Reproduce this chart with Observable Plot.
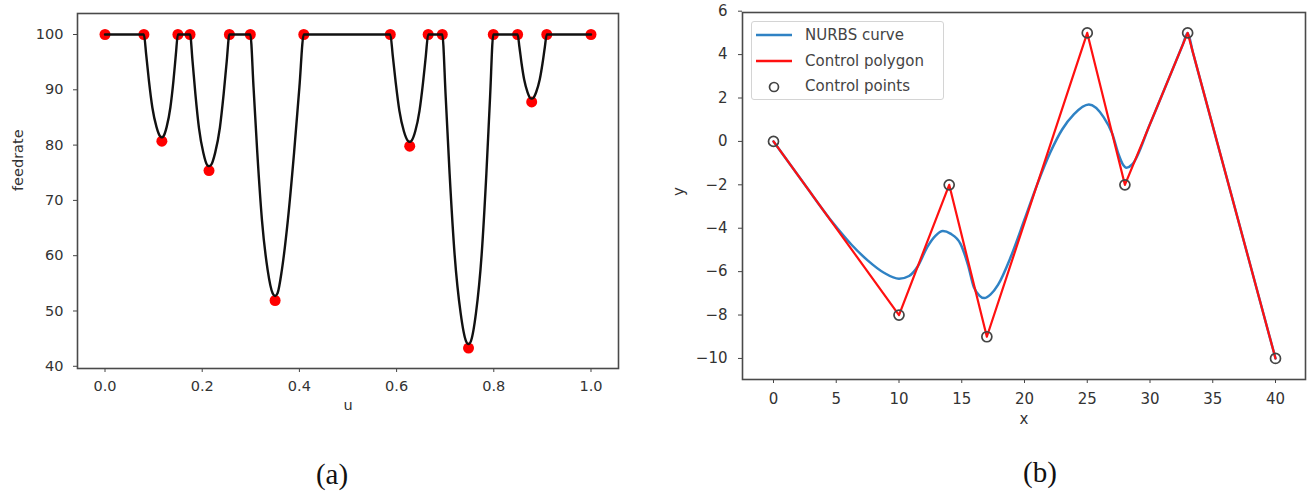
<!DOCTYPE html>
<html>
<head>
<meta charset="utf-8">
<script src="https://cdn.jsdelivr.net/npm/d3@7"></script>
<script src="https://cdn.jsdelivr.net/npm/@observablehq/plot@0.6"></script>
<style>
  html, body { margin: 0; padding: 0; background: #fff; }
  #root { position: relative; width: 1312px; height: 494px; overflow: hidden; background: #fff; }
  .panel { position: absolute; top: 0; }
  .cap { position: absolute; font-family: "Liberation Serif", "DejaVu Serif", serif; font-size: 29px; color: #111; transform: translate(-50%, -50%); white-space: nowrap; }
  #legend { position: absolute; left: 751px; top: 21px; width: 193px; height: 79px; box-sizing: border-box;
            border: 1px solid #d4d4d4; border-radius: 3px; background: rgba(255,255,255,0.85);
            font-family: "DejaVu Sans", sans-serif; font-size: 15px; color: #444; }
  .lrow { position: absolute; left: 0; height: 20px; display: flex; align-items: center; }
  .lrow svg { margin-left: 4px; }
  .lrow span { margin-left: 13px; }
</style>
</head>
<body>
<div id="root"></div>
<script>
// ---------- Panel (a): feedrate vs u ----------
const feedPointU = [0, 0.080, 0.117, 0.150, 0.175, 0.214, 0.256, 0.299, 0.350, 0.409, 0.587, 0.627, 0.665, 0.694, 0.748, 0.799, 0.849, 0.878, 0.909, 1.0];
const feedPointV = [100, 100, 80.7, 100, 100, 75.4, 100, 100, 51.9, 100, 100, 79.8, 100, 100, 43.3, 100, 100, 87.8, 100, 100];

const feedCurveU = [0, 0.080, 0.0848, 0.0904, 0.0974, 0.1059, 0.1133, 0.117, 0.1203, 0.1269, 0.1345, 0.1408, 0.1457, 0.150,
  0.175, 0.1801, 0.1859, 0.1933, 0.2023, 0.2101, 0.214, 0.2182, 0.2266, 0.2363, 0.2442, 0.2505, 0.256,
  0.299, 0.3056, 0.3133, 0.323, 0.3347, 0.3449, 0.350, 0.355, 0.3639, 0.3762, 0.3891, 0.400, 0.409,
  0.587, 0.5922, 0.5982, 0.6058, 0.615, 0.623, 0.627, 0.6308, 0.6384, 0.6471, 0.6544, 0.6601, 0.665,
  0.694, 0.701, 0.7091, 0.7194, 0.7318, 0.7426, 0.748, 0.7531, 0.7633, 0.775, 0.7847, 0.7924, 0.799,
  0.849, 0.8528, 0.8571, 0.8626, 0.8693, 0.8751, 0.878, 0.8811, 0.8873, 0.8944, 0.9003, 0.905, 0.909, 1.0];
const feedCurveV = [100, 100, 96.3, 91.6, 86.8, 83.3, 81.6, 81.4, 81.6, 83.3, 86.8, 91.6, 96.3, 100,
  100, 95.2, 89.3, 83.1, 78.6, 76.4, 76.2, 76.4, 78.6, 83.1, 89.3, 95.2, 100,
  100, 90.5, 78.7, 66.4, 57.4, 53.2, 52.7, 53.2, 57.4, 66.4, 78.7, 90.5, 100,
  100, 96.1, 91.3, 86.2, 82.5, 80.8, 80.6, 80.8, 82.5, 86.2, 91.3, 96.1, 100,
  100, 88.8, 74.8, 60.2, 49.6, 44.6, 44.0, 44.6, 49.6, 60.2, 74.8, 88.8, 100,
  100, 97.7, 94.8, 91.8, 89.6, 88.5, 88.4, 88.5, 89.6, 91.8, 94.8, 97.7, 100, 100];

const uTicks = [0, 0.2, 0.4, 0.6, 0.8, 1.0];
const feedTicks = [40, 50, 60, 70, 80, 90, 100];

// ---------- Panel (b): NURBS curve ----------
const ctrlX = [0, 10, 14, 17, 25, 28, 33, 40];
const ctrlY = [0, -8, -2, -9, 5, -2, 5, -10];

const nurbsX = [0, 2.5, 4.8, 6.2, 7.5, 8.8, 10.0, 10.8, 11.5, 12.25, 12.9, 13.5, 14.1, 14.9, 15.5, 15.96, 16.4, 16.8, 17.3, 17.9, 18.9, 20, 21, 22.07, 23.0, 23.93, 25.13, 26.3, 27.0, 27.5, 27.8, 28.13, 28.6, 30, 31.5, 32.6, 33, 33.4, 36.5, 40];
const nurbsY = [0, -2.0, -3.8, -4.75, -5.48, -6.05, -6.33, -6.2, -5.75, -4.87, -4.35, -4.13, -4.25, -4.72, -5.7, -6.71, -7.1, -7.22, -7.05, -6.6, -5.33, -3.6, -2.0, -0.49, 0.55, 1.25, 1.7, 1.12, 0.35, -0.6, -1.02, -1.21, -1.05, 0.8, 2.9, 4.44, 5, 4.14, -2.5, -10];

const xTicksB = [0, 5, 10, 15, 20, 25, 30, 35, 40];
const yTicksB = [-10, -8, -6, -4, -2, 0, 2, 4, 6];

const feedPts = feedPointU.map((u, i) => ({u, v: feedPointV[i]}));
const feedCurve = feedCurveU.map((u, i) => ({u, v: feedCurveV[i]}));
const ctrl = ctrlX.map((x, i) => ({x, y: ctrlY[i]}));
const nurbs = nurbsX.map((x, i) => ({x, y: nurbsY[i]}));

const root = document.getElementById("root");

const chartA = Plot.plot({
  width: 640, height: 430,
  marginLeft: 77, marginRight: 22, marginTop: 13, marginBottom: 62,
  style: {fontFamily: "DejaVu Sans, sans-serif", fontSize: "14.5px", color: "#333", background: "transparent", overflow: "visible"},
  x: {domain: [-0.0566, 1.0566]},
  y: {domain: [39.6, 103.8]},
  marks: [
    Plot.axisX({ticks: uTicks, tickFormat: d3.format(".1f"), tickSize: 4, tickPadding: 8, label: null, stroke: "#444"}),
    Plot.axisY({ticks: feedTicks, tickSize: 4, tickPadding: 10, label: null, stroke: "#444"}),
    Plot.frame({stroke: "#4a4a4a", strokeWidth: 1.6}),
    Plot.dot(feedPts, {x: "u", y: "v", r: 5.5, fill: "#ff0000", stroke: "none"}),
    Plot.line(feedCurve, {x: "u", y: "v", stroke: "#111", strokeWidth: 2.4, curve: "monotone-x"}),
    Plot.text(["u"], {frameAnchor: "bottom", dy: 41, text: d => d, fill: "#333"}),
    Plot.text(["feedrate"], {frameAnchor: "left", dx: -59.5, rotate: -90, text: d => d, fill: "#333"})
  ]
});
chartA.classList.add("panel");
chartA.style.left = "0px";
root.appendChild(chartA);

const chartB = Plot.plot({
  width: 652, height: 440,
  marginLeft: 82, marginRight: 7, marginTop: 12, marginBottom: 61,
  style: {fontFamily: "DejaVu Sans, sans-serif", fontSize: "15px", color: "#333", background: "transparent", overflow: "visible"},
  x: {domain: [-2.47, 42.39]},
  y: {domain: [-10.97, 5.94]},
  marks: [
    Plot.axisX({ticks: xTicksB, tickSize: 4, tickPadding: 10, label: null, stroke: "#444"}),
    Plot.axisY({ticks: yTicksB, tickSize: 4, tickPadding: 11, label: null, stroke: "#444"}),
    Plot.frame({stroke: "#4a4a4a", strokeWidth: 1.6}),
    Plot.line(nurbs, {x: "x", y: "y", stroke: "#2f82c4", strokeWidth: 2.5, curve: "monotone-x"}),
    Plot.line(ctrl, {x: "x", y: "y", stroke: "#ff1010", strokeWidth: 2.2}),
    Plot.dot(ctrl, {x: "x", y: "y", r: 5, fill: "none", stroke: "#444", strokeWidth: 1.7}),
    Plot.text(["x"], {frameAnchor: "bottom", dy: 44, text: d => d, fill: "#333"}),
    Plot.text(["y"], {frameAnchor: "left", dx: -63, rotate: -90, text: d => d, fill: "#333"})
  ]
});
chartB.classList.add("panel");
chartB.style.left = "660px";
root.appendChild(chartB);

// legend for panel (b)
const legendItems = [
  {label: "NURBS curve", kind: "line", color: "#2f82c4"},
  {label: "Control polygon", kind: "line", color: "#ff1010"},
  {label: "Control points", kind: "circle", color: "#444"}
];
const legend = document.createElement("div");
legend.id = "legend";
legendItems.forEach((item, i) => {
  const row = document.createElement("div");
  row.className = "lrow";
  row.style.top = (3 + i * 25.5) + "px";
  const ns = "http://www.w3.org/2000/svg";
  const s = document.createElementNS(ns, "svg");
  s.setAttribute("width", 36); s.setAttribute("height", 20);
  if (item.kind === "line") {
    const l = document.createElementNS(ns, "line");
    l.setAttribute("x1", 0); l.setAttribute("x2", 36); l.setAttribute("y1", 10); l.setAttribute("y2", 10);
    l.setAttribute("stroke", item.color); l.setAttribute("stroke-width", 2.5);
    s.appendChild(l);
  } else {
    const c = document.createElementNS(ns, "circle");
    c.setAttribute("cx", 18); c.setAttribute("cy", 11); c.setAttribute("r", 4.5);
    c.setAttribute("fill", "none"); c.setAttribute("stroke", item.color); c.setAttribute("stroke-width", 1.7);
    s.appendChild(c);
  }
  row.appendChild(s);
  const t = document.createElement("span");
  t.textContent = item.label;
  row.appendChild(t);
  legend.appendChild(row);
});
root.appendChild(legend);

// captions
[["(a)", 332, 474], ["(b)", 1040, 472]].forEach(([txt, x, y]) => {
  const d = document.createElement("div");
  d.className = "cap";
  d.textContent = txt;
  d.style.left = x + "px";
  d.style.top = y + "px";
  root.appendChild(d);
});
</script>
</body>
</html>
